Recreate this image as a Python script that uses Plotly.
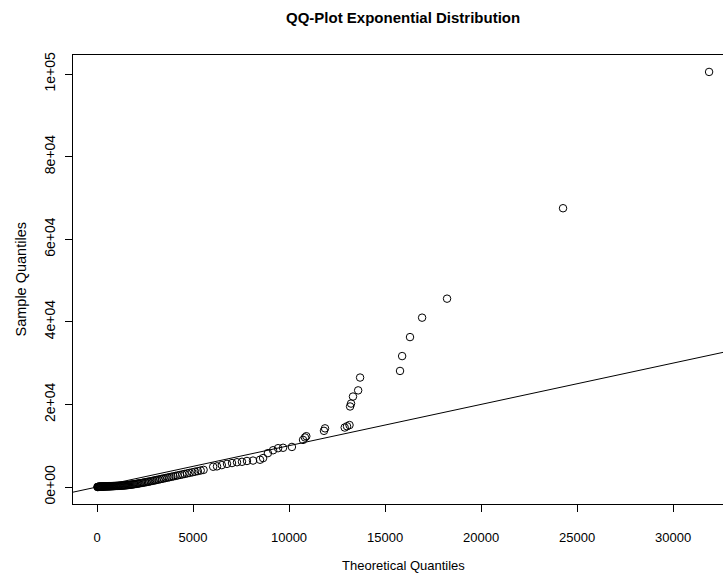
import plotly.graph_objects as go

# ---- data ----
theoretical = [20, 40, 60, 80, 100, 120, 140, 160, 180, 200, 225, 250, 275, 300, 325,
               350, 375, 400, 430, 460, 490, 520, 550, 580, 610, 640, 670, 700, 735,
               770, 805, 840, 875, 910, 950, 990, 1030, 1070, 1110, 1150, 1190, 1235,
               1280, 1325, 1370, 1415, 1460, 1510, 1560, 1610, 1660, 1710, 1760, 1815,
               1870, 1925, 1980, 2040, 2100, 2160, 2220, 2290, 2360, 2430, 2500,
               2570, 2640, 2710, 2790, 2870, 2950, 3030, 3110, 3200, 3290, 3380, 3470,
               3570, 3670, 3770, 3870, 3980, 4090, 4200, 4320, 4440, 4560, 4690, 4820,
               4960, 5100, 5250, 5400, 5550,
               6050, 6250, 6500, 6770, 7030, 7290, 7550, 7810, 8125, 8490, 8650, 8900,
               9170, 9430, 9690, 10150, 10730, 10830, 10900, 11820, 11875, 12900, 13020,
               13150, 13180, 13230, 13330, 13600, 13700, 15780, 15890, 16300, 16930,
               18230, 24270, 31875]
sample = [10, 20, 30, 40, 50, 60, 70, 80, 90, 100, 105, 110, 115, 120, 125,
          130, 135, 140, 145, 150, 155, 160, 165, 170, 175, 180, 185, 190, 195,
          200, 210, 220, 230, 240, 250, 260, 270, 280, 290, 300, 310, 320,
          335, 350, 365, 380, 400, 420, 445, 470, 500, 530, 560, 595,
          630, 670, 710, 750, 800, 850, 900, 950, 1010, 1070, 1130,
          1190, 1250, 1310, 1390, 1470, 1550, 1630, 1710, 1800, 1890, 1980, 2070,
          2170, 2270, 2370, 2470, 2580, 2690, 2800, 2920, 3040, 3160, 3290, 3420,
          3560, 3700, 3850, 4000, 4150,
          4900, 5000, 5300, 5600, 5800, 6000, 6100, 6300, 6400, 6600, 7000, 8200,
          8900, 9400, 9500, 9700, 11400, 12000, 12300, 13600, 14200, 14400, 14700,
          15000, 19500, 20200, 21900, 23400, 26500, 28100, 31700, 36300, 41000,
          45600, 67500, 100500]

ref_intercept = 0.0
ref_slope = 1.0

x_range = [-1250, 32600]
y_range = [-4116, 104600]

x_ticks = [0, 5000, 10000, 15000, 20000, 25000, 30000]
x_tick_text = ["0", "5000", "10000", "15000", "20000", "25000", "30000"]
y_ticks = [0, 20000, 40000, 60000, 80000, 100000]
y_tick_text = ["0e+00", "2e+04", "4e+04", "6e+04", "8e+04", "1e+05"]

FONT = "Liberation Sans, Arial, Helvetica, sans-serif"

fig = go.Figure()

fig.add_trace(go.Scatter(
    x=theoretical, y=sample, mode="markers",
    marker=dict(symbol="circle-open", size=7.5, color="black", line=dict(width=1)),
    showlegend=False, hoverinfo="x+y",
))

fig.add_trace(go.Scatter(
    x=x_range,
    y=[ref_intercept + ref_slope * v for v in x_range],
    mode="lines", line=dict(color="black", width=1),
    showlegend=False, hoverinfo="skip",
))

W, H = 723, 582
L, R, T, B = 73, 0, 55, 78
pw, ph = W - L - R, H - T - B

def px_to_paper_x(px):
    return (px - L) / pw

def py_to_paper_y(py):
    return (H - B - py) / ph

fig.update_layout(
    width=W, height=H,
    margin=dict(l=L, r=R, t=T, b=B, pad=0),
    paper_bgcolor="white", plot_bgcolor="white",
    font=dict(family=FONT, size=13, color="black"),
    xaxis=dict(
        range=x_range, tickvals=x_ticks, ticktext=x_tick_text,
        showgrid=False, zeroline=False,
        showline=True, linecolor="black", linewidth=1, mirror=True,
        ticks="outside", ticklen=7, tickcolor="black", tickwidth=1,
        ticklabelstandoff=14,
        tickfont=dict(family=FONT, size=13, color="black"),
    ),
    yaxis=dict(
        range=y_range, tickvals=y_ticks, ticktext=y_tick_text,
        showgrid=False, zeroline=False,
        showline=True, linecolor="black", linewidth=1, mirror=False,
        ticks="outside", ticklen=7, tickcolor="black", tickwidth=1,
        tickangle=-90, ticklabelstandoff=4,
        tickfont=dict(family=FONT, size=14, color="black"),
    ),
    annotations=[
        dict(text="<b>QQ-Plot Exponential Distribution</b>",
             xref="paper", yref="paper",
             x=px_to_paper_x(403), y=py_to_paper_y(18),
             xanchor="center", yanchor="middle", showarrow=False,
             font=dict(family=FONT, size=15, color="black")),
        dict(text="Theoretical Quantiles",
             xref="paper", yref="paper",
             x=px_to_paper_x(403), y=py_to_paper_y(565),
             xanchor="center", yanchor="middle", showarrow=False,
             font=dict(family=FONT, size=13, color="black")),
        dict(text="Sample Quantiles",
             xref="paper", yref="paper",
             x=px_to_paper_x(20), y=py_to_paper_y(279.5),
             xanchor="center", yanchor="middle", showarrow=False, textangle=-90,
             font=dict(family=FONT, size=14.5, color="black")),
    ],
)

fig.write_html(
    "out.html",
    config={"displayModeBar": False},
    post_script="document.body.style.margin='0px';document.body.style.padding='0px';",
)
